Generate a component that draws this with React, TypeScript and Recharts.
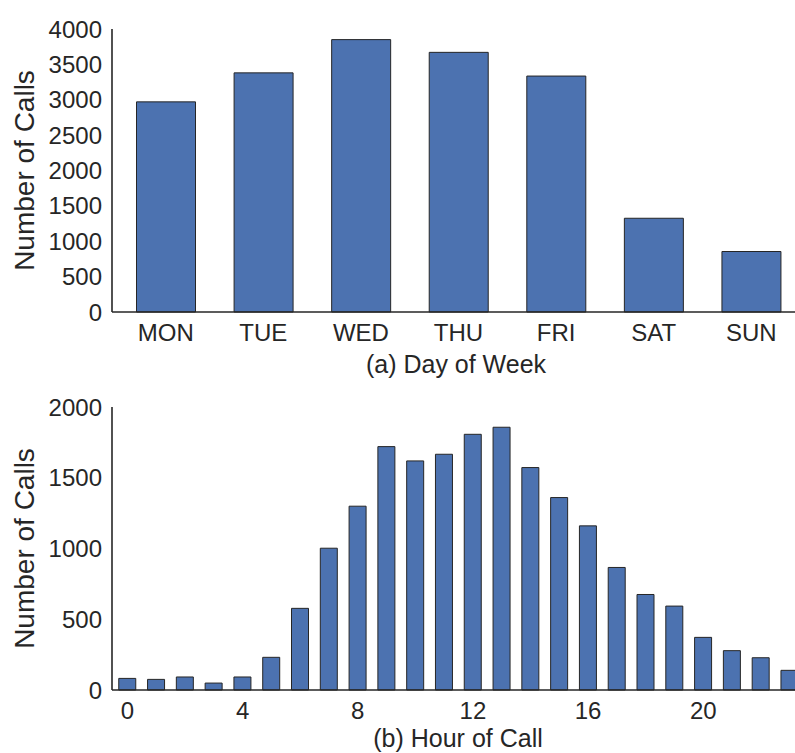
import React from "react";
import { BarChart, Bar, XAxis, YAxis, Label } from "recharts";

// (a) calls per weekday
const days = ["MON", "TUE", "WED", "THU", "FRI", "SAT", "SUN"];
const dayCalls = [2970, 3380, 3850, 3670, 3335, 1325, 855];
const dayTicks = [0, 500, 1000, 1500, 2000, 2500, 3000, 3500, 4000];

// (b) calls per hour of day
const hours = [0, 1, 2, 3, 4, 5, 6, 7, 8, 9, 10, 11, 12, 13, 14, 15, 16, 17, 18, 19, 20, 21, 22, 23];
const hourCalls = [
  82, 75, 92, 49, 92, 231, 577, 1002, 1299, 1720, 1619, 1666, 1807, 1857, 1572,
  1360, 1160, 866, 675, 593, 372, 278, 228, 139,
];
const hourTicks = [0, 500, 1000, 1500, 2000];

const dayData = days.map((d, i) => ({ day: d, calls: dayCalls[i] }));
const hourData = hours.map((h, i) => ({ hour: h, calls: hourCalls[i] }));

const FONT = '"Liberation Sans", Arial, sans-serif';
const INK = "#262626";
const BLUE = "#4C72B0";

// rotated y label, centred on the plot height
const YLabel = (props: any) => {
  const vb = props.viewBox || {};
  const cy = (vb.y ?? 0) + (vb.height ?? 0) / 2;
  const x = 24;
  return (
    <text
      x={x}
      y={cy}
      transform={`rotate(-90, ${x}, ${cy})`}
      textAnchor="middle"
      dominantBaseline="central"
      fill={INK}
      fontSize={28}
      fontFamily={FONT}
    >
      Number of Calls
    </text>
  );
};

const tickStyle = { fill: INK, fontSize: 24, fontFamily: FONT };
const axisLine = { stroke: INK, strokeWidth: 1.6 };

export default function App() {
  return (
    <div
      style={{
        position: "absolute",
        left: 0,
        top: 0,
        width: 795,
        height: 753,
        overflow: "hidden",
        background: "#fff",
        fontFamily: FONT,
      }}
    >
      {/* top: day of week */}
      <div style={{ position: "absolute", left: 0, top: 0 }}>
        <BarChart
          width={805}
          height={380}
          data={dayData}
          margin={{ top: 29, right: 5, left: 52, bottom: 0 }}
          barCategoryGap="20%"
        >
          <XAxis
            dataKey="day"
            height={68}
            padding={{ left: 5, right: 0 }}
            tickLine={false}
            tickSize={0}
            tickMargin={12}
            axisLine={axisLine}
            tick={tickStyle}
            interval={0}
          >
            <Label
              value="(a) Day of Week"
              position="insideBottom"
              offset={7}
              style={{ fill: INK, fontSize: 25, fontFamily: FONT }}
            />
          </XAxis>
          <YAxis
            width={60}
            domain={[0, 4000]}
            ticks={dayTicks}
            tickLine={false}
            tickSize={0}
            tickMargin={10}
            axisLine={axisLine}
            tick={tickStyle}
          >
            <Label content={<YLabel />} />
          </YAxis>
          <Bar
            dataKey="calls"
            fill={BLUE}
            stroke={INK}
            strokeWidth={1}
            isAnimationActive={false}
          />
        </BarChart>
      </div>

      {/* bottom: hour of call */}
      <div style={{ position: "absolute", left: 0, top: 380 }}>
        <BarChart
          width={806}
          height={373}
          data={hourData}
          margin={{ top: 27, right: 2, left: 52, bottom: 0 }}
          barCategoryGap="20%"
        >
          <XAxis
            dataKey="hour"
            height={63}
            padding={{ left: 1, right: 0 }}
            tickLine={false}
            tickSize={0}
            tickMargin={12}
            axisLine={axisLine}
            tick={tickStyle}
            interval={3}
          >
            <Label
              value="(b) Hour of Call"
              position="insideBottom"
              offset={6}
              style={{ fill: INK, fontSize: 25, fontFamily: FONT }}
            />
          </XAxis>
          <YAxis
            width={60}
            domain={[0, 2000]}
            ticks={hourTicks}
            tickLine={false}
            tickSize={0}
            tickMargin={10}
            axisLine={axisLine}
            tick={tickStyle}
          >
            <Label content={<YLabel />} />
          </YAxis>
          <Bar
            dataKey="calls"
            fill={BLUE}
            stroke={INK}
            strokeWidth={1}
            isAnimationActive={false}
          />
        </BarChart>
      </div>
    </div>
  );
}
